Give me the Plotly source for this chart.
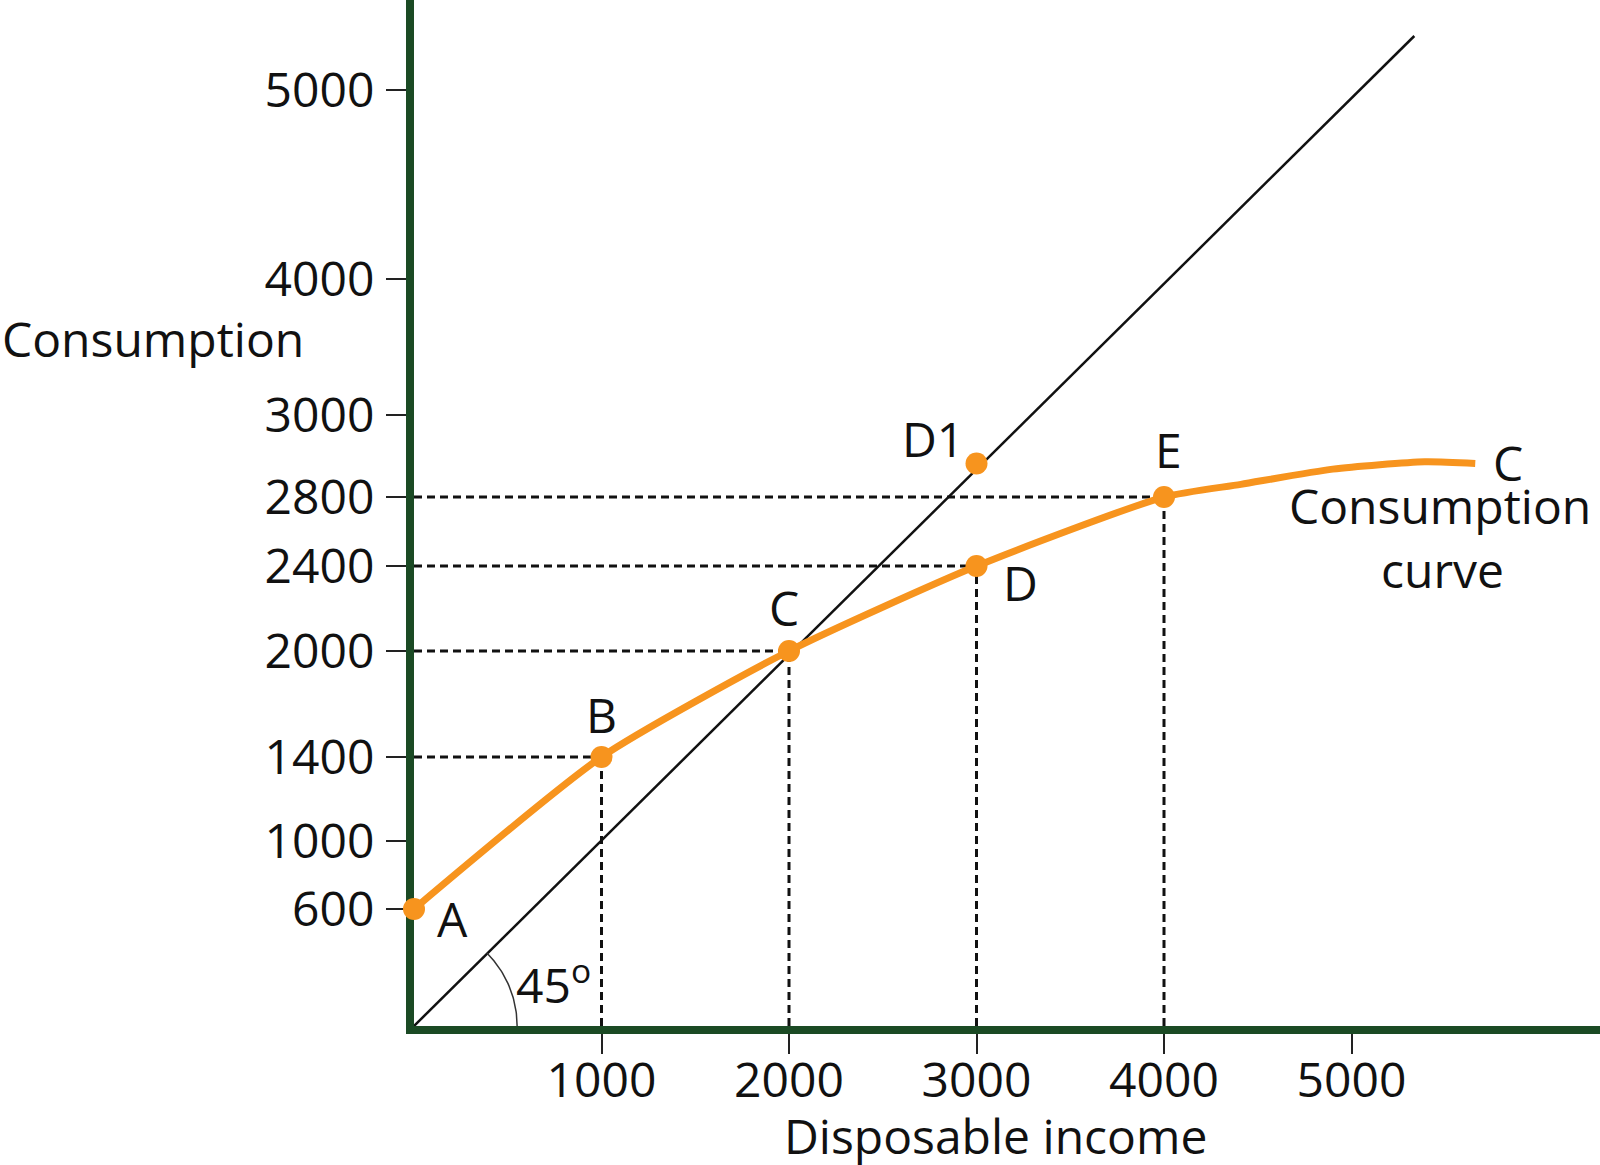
import numpy as np
import plotly.graph_objects as go

# ---------------- data ----------------
point_names = ["A", "B", "C", "D", "E"]
income = [0, 1000, 2000, 3000, 4000]
consumption = [600, 1400, 2000, 2400, 2800]

# flattening upper tail of the consumption curve beyond E
tail_income = [4410, 4900, 5390, 5660]
tail_consumption = [2831, 2868, 2886, 2882]

x_tick_vals = [1000, 2000, 3000, 4000, 5000]
y_tick_labels = [600, 1000, 1400, 2000, 2400, 2800, 3000, 4000, 5000]
# the original draws its vertical scale unevenly: where each label sits, in x-units
y_tick_pos = [624, 987, 1435, 2000, 2453, 2821, 3259, 3984, 4992]

d1_income = 3000          # point D1 lies on the 45-degree line above D
diag_end_x = [0, 5335]    # extent of the 45-degree line
diag_end_y = [0, 5280]
arc_radius = 550

# ---------------- styling ----------------
ORANGE = "#F7941E"
GREEN = "#1B4A24"
INK = "#111111"
FONT = "Open Sans, Lato, sans-serif"
FS = 48

def ypos(v):
    return np.interp(v, [0] + y_tick_labels, [0] + y_tick_pos)

W, H = 1600, 1165
L, R, T, B = 414, 0, 0, 139
scale = 0.1875  # px per unit (same on both axes)
pw, ph = W - L - R, H - T - B
x_range = [0, pw / scale]
y_range = [0, ph / scale]

fig = go.Figure()

# dashed guide lines from the axes to B, C, D, E
dx, dy = [], []
for xi, ci in zip(income[1:], consumption[1:]):
    yi = float(ypos(ci))
    dx += [0, xi, None, xi, xi, None]
    dy += [yi, yi, None, 0, yi, None]
fig.add_trace(go.Scatter(x=dx, y=dy, mode="lines",
                         line=dict(color=INK, width=3, dash="8px,5px"),
                         hoverinfo="skip", showlegend=False))

# 45-degree line
fig.add_trace(go.Scatter(x=diag_end_x, y=diag_end_y, mode="lines",
                         line=dict(color=INK, width=2.5),
                         hoverinfo="skip", showlegend=False))

# angle arc
ang = np.linspace(0, np.pi / 4, 40)
fig.add_trace(go.Scatter(x=arc_radius * np.cos(ang), y=arc_radius * np.sin(ang),
                         mode="lines", line=dict(color="#333333", width=1.5),
                         hoverinfo="skip", showlegend=False))

# consumption curve
cx = income + tail_income
cy = [float(ypos(v)) for v in consumption + tail_consumption]
fig.add_trace(go.Scatter(x=cx, y=cy, mode="lines",
                         line=dict(color=ORANGE, width=7, shape="spline", smoothing=0.6),
                         cliponaxis=False, hoverinfo="skip", showlegend=False))

# points
d1_y = d1_income  # on the 45-degree line
px = income + [d1_income]
py = [float(ypos(v)) for v in consumption] + [d1_y]
fig.add_trace(go.Scatter(x=px, y=py, mode="markers",
                         marker=dict(color=ORANGE, size=22),
                         cliponaxis=False, hoverinfo="skip", showlegend=False))

f = dict(size=FS, color=INK, family=FONT)
ann = []
label_shift = {"A": (38, -9), "B": (0, 42), "C": (-5, 44), "D": (44, -16), "E": (4, 48)}
for name, xi, yi in zip(point_names, income, py[:5]):
    sx, sy = label_shift[name]
    ann.append(dict(x=xi, y=yi, xref="x", yref="y", text=name, showarrow=False,
                    xshift=sx, yshift=sy, font=f))
ann.append(dict(x=d1_income, y=d1_y, xref="x", yref="y", text="D1", showarrow=False,
                xshift=-44, yshift=25, font=f))

# curve end labels
end_x, end_y = cx[-1], cy[-1]
ann.append(dict(x=end_x, y=end_y, xref="x", yref="y", text="C", showarrow=False,
                xshift=33, yshift=1, font=f))
ann.append(dict(x=end_x, y=end_y, xref="x", yref="y", text="Consumption", showarrow=False,
                xshift=-35, yshift=-42, font=f))
ann.append(dict(x=end_x, y=end_y, xref="x", yref="y", text="curve", showarrow=False,
                xshift=-33, yshift=-106, font=f))

# 45 degree mark
ann.append(dict(x=arc_radius, y=0, xref="x", yref="y", text="45<sup>o</sup>", showarrow=False,
                xshift=36, yshift=44, font=f))

# axis titles
ann.append(dict(x=(0 - L) / pw, y=(H - B - 338) / ph, xref="paper", yref="paper",
                text="Consumption", showarrow=False, xanchor="left", yanchor="middle",
                font=f))
ann.append(dict(x=(995 - L) / pw, y=(H - B - 1135) / ph, xref="paper", yref="paper",
                text="Disposable income", showarrow=False, xanchor="center", yanchor="middle",
                font=f))

axis_common = dict(showline=True, linewidth=8, linecolor=GREEN, showgrid=False,
                   zeroline=False, ticks="outside", ticklen=20, tickwidth=1.5,
                   tickcolor="#222222", layer="below traces", fixedrange=True,
                   tickfont=f)

fig.update_layout(
    width=W, height=H,
    margin=dict(l=L, r=R, t=T, b=B, pad=0),
    paper_bgcolor="white", plot_bgcolor="white",
    xaxis=dict(range=x_range, tickvals=x_tick_vals,
               ticktext=[str(v) for v in x_tick_vals], ticklabelstandoff=-15, **axis_common),
    yaxis=dict(range=y_range, tickvals=y_tick_pos,
               ticktext=[str(v) for v in y_tick_labels], ticklabelstandoff=2, **axis_common),
    annotations=ann,
    showlegend=False,
)

fig.write_html("out.html")
